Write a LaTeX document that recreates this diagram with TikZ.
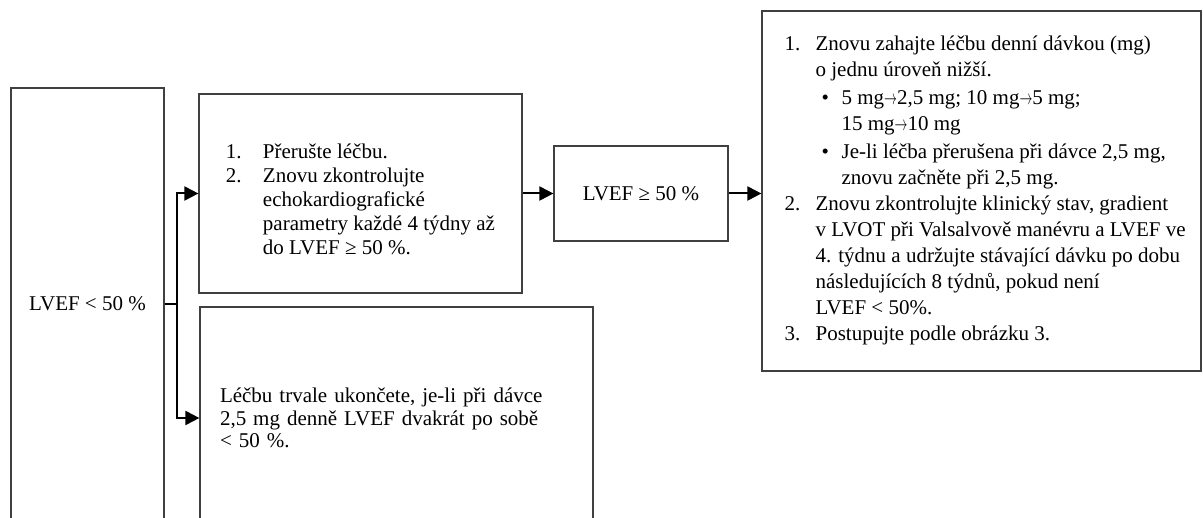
\documentclass[tikz,border=0pt]{standalone}
\usepackage{graphicx}
\usepackage{fontspec}
\setmainfont{Liberation Serif}
\usetikzlibrary{arrows.meta}

\newcommand{\lbl}[2]{\makebox[#1][l]{#2}}
\newcommand{\dto}{\scalebox{0.62}[1]{$\rightarrow$}}

\begin{document}
\begin{tikzpicture}[x=1pt, y=-1pt,
                    box/.style={draw=black!75, line width=1.2pt, inner sep=0pt},
                    arr/.style={line width=2pt, -{Triangle[length=14pt,width=14pt]}},
                    font=\fontsize{21}{24}\selectfont]
  \useasboundingbox (0,0) rectangle (1203,518);
  \clip (0,0) rectangle (1203,518);

  % boxes
  \node[box, minimum width=153pt, minimum height=432pt] (lvefLow) at (87.5,304) {LVEF < 50 \%};
  \node[box, minimum width=323pt, minimum height=199pt] (stopBox) at (360.5,193.5) {};
  \node[align=left, inner sep=0pt] (stopText) at ([yshift=-6pt]stopBox.center)
    {\lbl{37pt}{1.}Přerušte léčbu.\\
     \lbl{37pt}{2.}Znovu zkontrolujte\\
     \hspace*{37pt}echokardiografické\\
     \hspace*{37pt}parametry každé 4 týdny až\\
     \hspace*{37pt}do LVEF ≥ 50 \%.};
  \node[box, minimum height=222pt, text width=353pt, inner xsep=20pt, align=left,
        font=\fontsize{21}{22.5}\selectfont] (endBox) at (396.5,418)
    {Léčbu trvale ukončete, je-li při dávce\\
     2,5 mg denně LVEF dvakrát po sobě\\
     < 50 \%.};
  \node[box, minimum width=174pt, minimum height=95pt] (lvefOk) at (641,193.5) {LVEF ≥ 50 \%};
  \node[box, minimum width=439pt, minimum height=360pt] (restartBox) at (981.5,191) {};
  \node[anchor=north west, inner sep=0pt, align=left, font=\fontsize{21}{26}\selectfont] (restartText)
      at ([xshift=23pt,yshift=-25pt]restartBox.north west)
    {\lbl{31pt}{1.}Znovu zahajte léčbu denní dávkou (mg)\\
     \hspace*{31pt}o jednu úroveň nižší.\\[2pt]
     \hspace*{37pt}\lbl{20pt}{•}5 mg\dto2,5 mg; 10 mg\dto5 mg;\\
     \hspace*{57pt}15 mg\dto10 mg\\[2pt]
     \hspace*{37pt}\lbl{20pt}{•}Je-li léčba přerušena při dávce 2,5 mg,\\
     \hspace*{57pt}znovu začněte při 2,5 mg.\\
     \lbl{31pt}{2.}Znovu zkontrolujte klinický stav, gradient\\
     \hspace*{31pt}v LVOT při Valsalvově manévru a LVEF ve\\
     \hspace*{31pt}4. týdnu a udržujte stávající dávku po dobu\\
     \hspace*{31pt}následujících 8 týdnů, pokud není\\
     \hspace*{31pt}LVEF < 50\%.\\
     \lbl{31pt}{3.}Postupujte podle obrázku 3.};

  % connectors
  \coordinate (split) at (177,304);
  \draw[line width=2pt] (lvefLow.east) -- (split);
  \draw[arr] (split) |- (stopBox.west);
  \draw[arr] (split) |- (endBox.west);
  \draw[arr] (stopBox.east) -- (lvefOk.west);
  \draw[arr] (lvefOk.east) -- (lvefOk.east -| restartBox.west);
\end{tikzpicture}
\end{document}
